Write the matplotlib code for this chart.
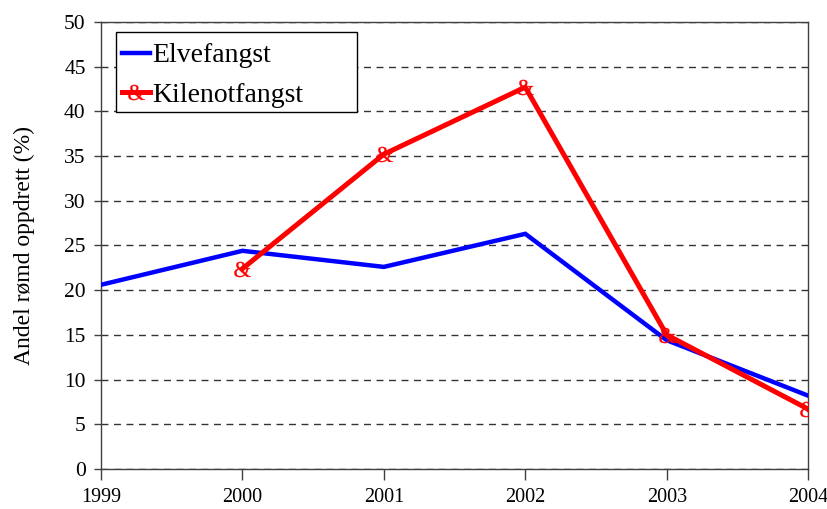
import matplotlib
matplotlib.use("Agg")
import matplotlib.pyplot as plt
from matplotlib.textpath import TextPath
from matplotlib.font_manager import FontProperties
from matplotlib.path import Path
from matplotlib.patches import Rectangle

years = [1999, 2000, 2001, 2002, 2003, 2004]
elve_years = [1999, 2000, 2001, 2002, 2003, 2004]
elve = [20.6, 24.4, 22.6, 26.3, 14.4, 8.2]
kile_years = [2000, 2001, 2002, 2003, 2004]
kile = [22.4, 35.2, 42.7, 15.0, 6.7]
yticks = list(range(0, 51, 5))

plt.rcParams['font.family'] = ['Liberation Serif', 'DejaVu Serif']

# ampersand glyph as a marker path, centered
tp = TextPath((0, 0), '&', size=1, prop=FontProperties(family='Liberation Serif'))
verts = tp.vertices.copy()
ext = tp.get_extents()
verts[:, 0] -= (ext.x0 + ext.x1) / 2
verts[:, 1] -= (ext.y0 + ext.y1) / 2
amp = Path(verts, tp.codes)

fig = plt.figure(figsize=(8.28, 5.09), dpi=100)
ax = fig.add_axes([0.122, 0.0786, 0.854, 0.8784])

ax.plot(elve_years, elve, color='#0000FF', lw=3.2, label='Elvefangst', zorder=3,
        solid_joinstyle='miter')
ax.plot(kile_years, kile, color='#FF0000', lw=3.6, label='Kilenotfangst', zorder=4,
        marker=amp, markersize=13, markeredgewidth=0.2,
        markerfacecolor='#FF0000', markeredgecolor='#FF0000', solid_joinstyle='miter')

ax.set_xlim(1999, 2004)
ax.set_ylim(0, 50)
ax.set_xticks(years)
ax.set_yticks(yticks)
ax.tick_params(axis='x', direction='out', length=8, width=1, labelsize=14.5, pad=6, colors='#404040', labelcolor='black')
ax.tick_params(axis='y', direction='out', length=5, width=1, labelsize=15.5, pad=6, colors='#404040', labelcolor='black')
ax.yaxis.grid(True, linestyle=(0, (5, 4)), color='#333333', lw=1)
ax.set_axisbelow(True)
for s in ax.spines.values():
    s.set_color('#404040')
    s.set_linewidth(1)

ax.set_ylabel('Andel rømd oppdrett (%)', fontsize=17, labelpad=21)

# legend frame drawn as a box, legend itself frameless
box = Rectangle((0.0212, 0.799), 0.341, 0.179, transform=ax.transAxes,
                facecolor='white', edgecolor='black', lw=1, zorder=5)
ax.add_patch(box)
leg = ax.legend(loc='upper left', bbox_to_anchor=(0.014, 0.978), borderaxespad=0,
                fontsize=20, frameon=False, handlelength=1.0,
                handletextpad=0.1, borderpad=0.4, labelspacing=0.5)
leg.set_zorder(6)

fig.savefig('out.png', dpi=100)
